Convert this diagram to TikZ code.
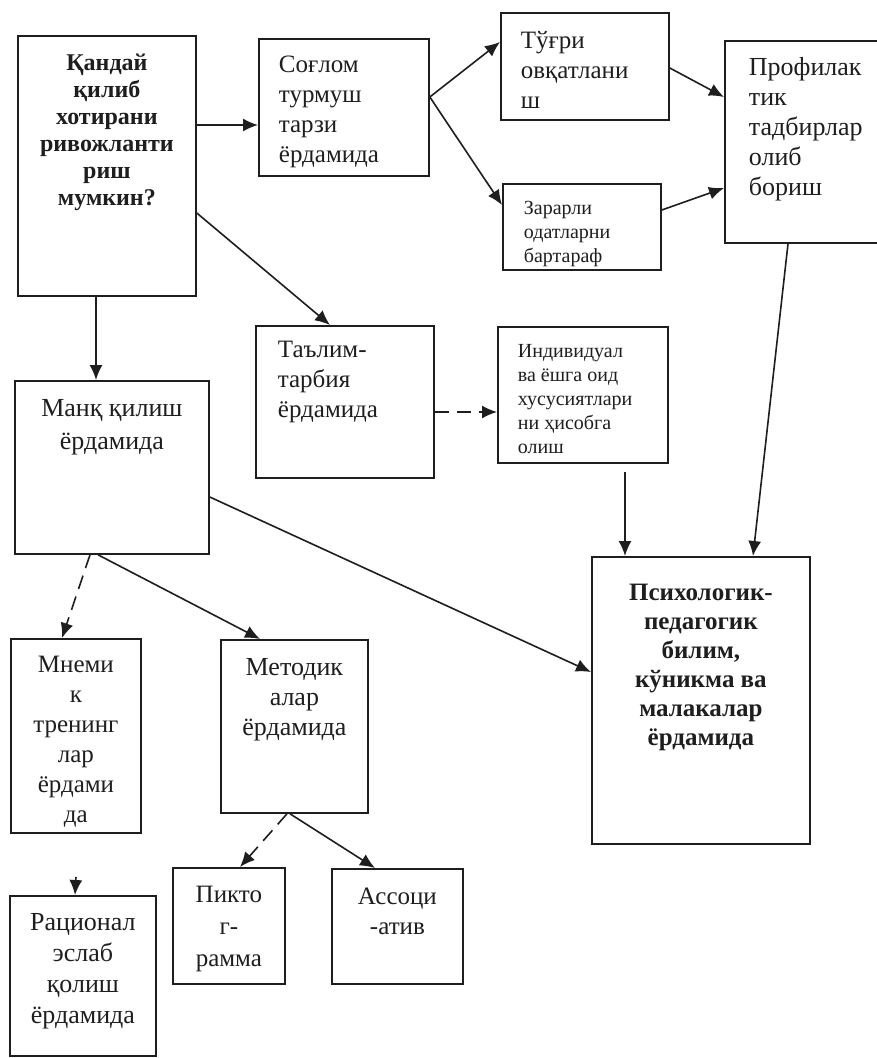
\documentclass[tikz,border=0pt]{standalone}
\usepackage{fontspec}
\setmainfont{Liberation Serif}
\usetikzlibrary{arrows.meta}
\definecolor{ink}{HTML}{1E1E1E}
% width, height, side pad, top pad, alignment, text
\newcommand\bt[6]{\hspace*{#3pt}\parbox[c][#2pt][t]{\dimexpr#1pt-#3pt-#3pt\relax}{\vspace*{#4pt}#5\strut #6}\hspace*{#3pt}}
\begin{document}
\begin{tikzpicture}[x=1pt,y=-1pt,
  box/.style={draw=ink, line width=1.8pt, inner sep=0pt, anchor=north west, text=ink},
  reg/.style={font=\fontsize{25}{30}\selectfont},
  sm/.style={font=\fontsize{20}{24}\selectfont},
  bld/.style={font=\bfseries\fontsize{24}{27}\selectfont},
  arr/.style={draw=ink, line width=1.6pt, -{Latex[length=15pt,width=13pt]}},
  dsh/.style={arr, dash pattern=on 14pt off 8pt}]
\useasboundingbox (0,0) rectangle (877,1058);
\fill[white] (0,0) rectangle (877,1058);
\clip (0,0) rectangle (877,1058);

\node[box,bld] (A) at (17,35) {\bt{178}{260}{6}{16}{\centering}{Қандай\\қилиб\\хотирани\\ривожланти\\риш\\мумкин?}};
\node[box,reg] (B) at (258,38) {\bt{170}{137}{20}{13}{\raggedright}{Соғлом\\турмуш\\тарзи\\ёрдамида}};
\node[box,reg] (C) at (500,12) {\bt{168}{107}{20}{15}{\raggedright}{Тўғри\\овқатлани\\ш}};
\node[box,sm] (D) at (502,183) {\bt{158}{86}{21}{14}{\raggedright}{Зарарли\\одатларни\\бартараф}};
\node[box,font=\fontsize{26}{30}\selectfont] (E) at (724,40) {\bt{161}{202}{24}{14}{\raggedright}{Профилак\\тик\\тадбирлар\\олиб\\бориш}};
\node[box,font=\fontsize{26}{33}\selectfont] (F) at (14,380) {\bt{194}{173}{6}{12}{\centering}{Манқ қилиш\\ёрдамида}};
\node[box,reg] (G) at (255,325) {\bt{178}{152}{22}{11}{\raggedright}{Таълим-\\тарбия\\ёрдамида}};
\node[box,sm] (H) at (497,326) {\bt{170}{136}{20}{14}{\raggedright}{Индивидуал\\ва ёшга оид\\хусусиятлари\\ни ҳисобга\\олиш}};
\node[box,font=\bfseries\fontsize{25}{29}\selectfont] (P) at (591,556) {\bt{218}{287}{6}{23}{\centering}{Психологик-\\педагогик\\билим,\\кўникма ва\\малакалар\\ёрдамида}};
\node[box,reg] (M) at (10,638) {\bt{130}{194}{4}{13}{\centering}{Мнеми\\к\\тренинг\\лар\\ёрдами\\да}};
\node[box,font=\fontsize{26}{30}\selectfont] (T) at (220,639) {\bt{147}{173}{4}{15}{\centering}{Методик\\алар\\ёрдамида}};
\node[box,font=\fontsize{25}{32}\selectfont] (K) at (172,867) {\bt{112}{116}{4}{12}{\centering}{Пикто\\г-\\рамма}};
\node[box,reg] (S) at (331,868) {\bt{131}{115}{4}{15}{\centering}{Ассоци\\-атив}};
\node[box,font=\fontsize{26}{31}\selectfont] (R) at (9,895) {\bt{146}{160}{4}{13}{\centering}{Рационал\\эслаб\\қолиш\\ёрдамида}};

% connectors
\draw[arr] ([yshift=-90pt]A.north east) -- ([yshift=-87pt]B.north west);
\draw[arr] ([yshift=-59pt]B.north east) -- ([yshift=-30pt]C.north west);
\draw[arr] ([yshift=-59pt]B.north east) -- ([yshift=-22pt]D.north west);
\draw[arr] ([yshift=-56pt]C.north east) -- ([yshift=-57pt]E.north west);
\draw[arr] ([yshift=-27pt]D.north east) -- ([yshift=-148pt]E.north west);
\draw[arr] ([xshift=64pt]E.south west) -- ([xshift=162pt]P.north west);
\draw[arr] ([yshift=-178pt]A.north east) -- ([xshift=75pt]G.north west);
\draw[arr] ([xshift=79pt]A.south west) -- ([xshift=82pt]F.north west);
\draw[dsh] ([yshift=-87pt]G.north east) -- ([yshift=-86pt]H.north west);
\draw[arr, shorten <=8pt] ([xshift=128pt]H.south west) -- ([xshift=34pt]P.north west);
\draw[arr] ([yshift=-117pt]F.north east) -- ([yshift=-116pt]P.north west);
\draw[dsh] ([xshift=76pt]F.south west) -- ([xshift=52pt]M.north west);
\draw[arr] ([xshift=84pt]F.south west) -- ([xshift=40pt]T.north west);
\draw[dsh] ([xshift=67pt]T.south west) -- ([xshift=68pt]K.north west);
\draw[arr] ([xshift=70pt]T.south west) -- ([xshift=44pt]S.north west);
\coordinate (r0) at (76,877);
\draw[arr] (r0) -- ([xshift=66pt]R.north west);
\end{tikzpicture}
\end{document}
